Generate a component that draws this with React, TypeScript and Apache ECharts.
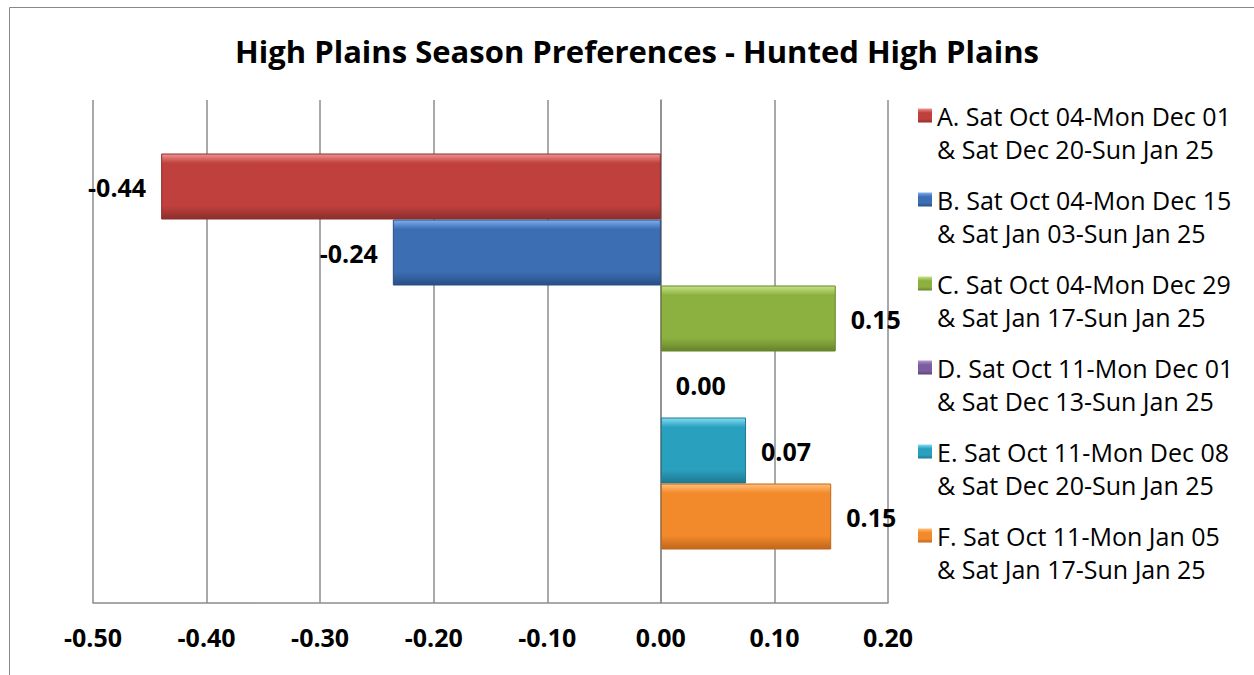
import React, { useEffect, useRef } from "react";
import * as echarts from "echarts";

const titleText = "High Plains Season Preferences - Hunted High Plains";
const categories = [""];
const seriesNames = [
  "A. Sat Oct 04-Mon Dec 01\n& Sat Dec 20-Sun Jan 25",
  "B. Sat Oct 04-Mon Dec 15\n& Sat Jan 03-Sun Jan 25",
  "C. Sat Oct 04-Mon Dec 29\n& Sat Jan 17-Sun Jan 25",
  "D. Sat Oct 11-Mon Dec 01\n& Sat Dec 13-Sun Jan 25",
  "E. Sat Oct 11-Mon Dec 08\n& Sat Dec 20-Sun Jan 25",
  "F. Sat Oct 11-Mon Jan 05\n& Sat Jan 17-Sun Jan 25",
];
const seriesValues = [-0.44, -0.236, 0.154, 0.0, 0.075, 0.15];
const axisMin = -0.5;
const axisMax = 0.2;
const axisInterval = 0.1;

// [light, base, dark]
const palette = [
  ["#f09592", "#bf403d", "#8c2f2d"],
  ["#82b0f0", "#3b6eb3", "#284f85"],
  ["#c8e488", "#8db140", "#66842c"],
  ["#b497d6", "#7a5ea0", "#5a4378"],
  ["#84def4", "#2aa0bf", "#1f7890"],
  ["#ffc07a", "#f2892a", "#c0661b"],
];

function grad(c: string[]) {
  return new echarts.graphic.LinearGradient(0, 0, 0, 1, [
    { offset: 0, color: c[0] },
    { offset: 0.14, color: c[1] },
    { offset: 0.8, color: c[1] },
    { offset: 1, color: c[2] },
  ]);
}

function iconGrad(c: string[]) {
  // icon square occupies top 14 of a 47-high box
  const k = 14 / 47;
  return new echarts.graphic.LinearGradient(0, 0, 0, 1, [
    { offset: 0, color: c[0] },
    { offset: 0.3 * k, color: c[1] },
    { offset: 0.75 * k, color: c[1] },
    { offset: k, color: c[2] },
    { offset: 1, color: c[2] },
  ]);
}

export default function App() {
  const ref = useRef<HTMLDivElement>(null);
  useEffect(() => {
    if (!ref.current) return;
    const chart = echarts.init(ref.current, undefined, { renderer: "svg" });
    const fontFamily = "'Open Sans', sans-serif";
    const series = seriesNames.map((name, i) => ({
      name,
      type: "bar",
      data: [seriesValues[i]],
      barWidth: 66,
      barGap: "0%",
      itemStyle: {
        color: grad(palette[i]),
        borderColor: palette[i][2],
        borderWidth: seriesValues[i] === 0 ? 0 : 1,
      },
      label: {
        show: true,
        position: seriesValues[i] < 0 ? "left" : "right",
        distance: 15,
        formatter: (p: any) => Number(p.value).toFixed(2),
        color: "#000",
        fontWeight: "bold",
        fontSize: 25,
        fontFamily,
      },
    }));
    chart.setOption({
      animation: false,
      backgroundColor: "#fff",
      title: {
        text: titleText,
        left: 632,
        top: 27,
        textAlign: "center",
        textStyle: {
          fontFamily,
          fontWeight: "bold",
          fontSize: 31,
          lineHeight: 38,
          color: "#000",
        },
      },
      legend: {
        orient: "vertical",
        left: 913,
        top: 94,
        itemWidth: 14,
        itemHeight: 47,
        itemGap: 18,
        icon: "path://M0,0H14V14H0Z M0,47L0.01,47",
        selectedMode: false,
        data: seriesNames.map((name, i) => ({
          name,
          itemStyle: {
            color: iconGrad(palette[i]),
            borderWidth: 0,
          },
        })),
        textStyle: {
          fontFamily,
          fontSize: 25,
          lineHeight: 33,
          color: "#000",
        },
      },
      graphic: [
        {
          type: "rect",
          shape: { x: 9.5, y: 7.5, width: 1300, height: 700 },
          style: { fill: "none", stroke: "#888", lineWidth: 1 },
          silent: true,
        },
      ],
      grid: { left: 93, right: 366, top: 100, bottom: 72, containLabel: false },
      xAxis: {
        type: "value",
        min: axisMin,
        max: axisMax,
        interval: axisInterval,
        axisLine: { show: true, lineStyle: { color: "#8c8c8c", width: 1.5 } },
        axisTick: { show: false },
        splitLine: { show: true, lineStyle: { color: "#8c8c8c", width: 1.5 } },
        axisLabel: {
          formatter: (v: number) => v.toFixed(2),
          color: "#000",
          fontWeight: "bold",
          fontSize: 25,
          fontFamily,
          margin: 21,
        },
      },
      yAxis: {
        type: "category",
        data: categories,
        inverse: true,
        axisLine: { show: true, lineStyle: { color: "#8c8c8c", width: 1.5 } },
        axisTick: { show: false },
        axisLabel: { show: false },
      },
      series,
    });
    return () => chart.dispose();
  }, []);
  return (
    <div
      ref={ref}
      style={{ position: "fixed", left: 0, top: 0, width: 1254, height: 675 }}
    />
  );
}
